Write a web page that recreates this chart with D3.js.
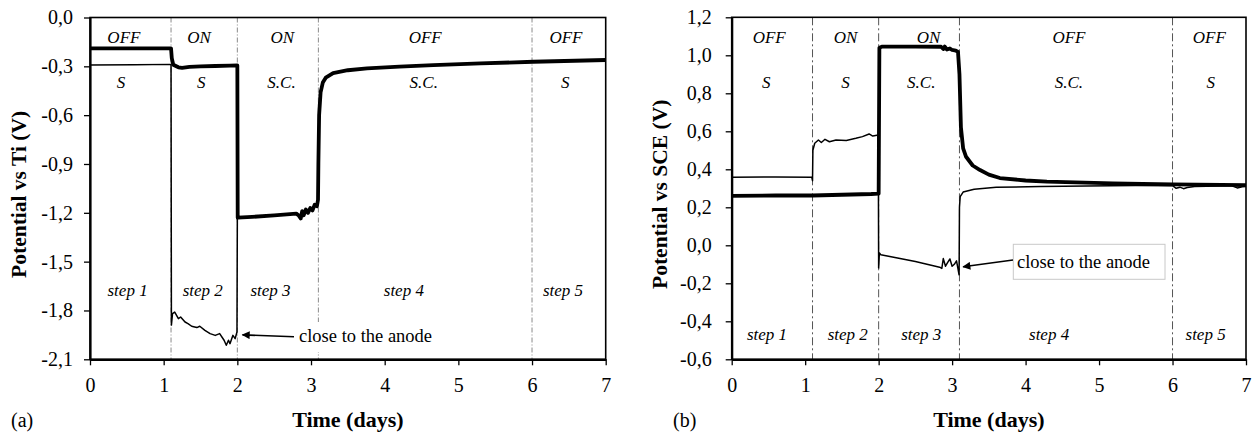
<!DOCTYPE html>
<html>
<head>
<meta charset="utf-8">
<script src="https://cdn.jsdelivr.net/npm/d3@7"></script>
<style>
  html, body { margin: 0; padding: 0; background: #fff; }
  svg { display: block; }
  text { font-family: "Liberation Serif", "Times New Roman", serif; fill: #000; }
</style>
</head>
<body>
<svg id="chart" width="1252" height="435"></svg>
<script>
// ---- data -------------------------------------------------------------
const dayTicks = [0, 1, 2, 3, 4, 5, 6, 7];
const tiTicks = [-2.1, -1.8, -1.5, -1.2, -0.9, -0.6, -0.3, 0.0];
const sceTicks = [-0.6, -0.4, -0.2, 0.0, 0.2, 0.4, 0.6, 0.8, 1.0, 1.2];

const stepBounds = [1.1, 2.0, 3.1, 6.0];
const polarisation = ["OFF", "ON", "ON", "OFF", "OFF"];
const connection = ["S", "S", "S.C.", "S.C.", "S"];
const stepNames = ["step 1", "step 2", "step 3", "step 4", "step 5"];

// (a) potential vs Ti, probe in the bulk [day, V]
const tiBulk = [
  [0, -0.19], [1.1, -0.19], [1.11, -0.25], [1.13, -0.29], [1.2, -0.306], [1.25, -0.309],
  [1.35, -0.303], [1.5, -0.300], [1.7, -0.298], [1.9, -0.296], [2.0, -0.295],
  [2.005, -1.23], [2.2, -1.225], [2.5, -1.216], [2.8, -1.205], [2.83, -1.215],
  [2.86, -1.235], [2.88, -1.19], [2.9, -1.215], [2.93, -1.18], [2.96, -1.2],
  [2.99, -1.17], [3.02, -1.185], [3.05, -1.15], [3.08, -1.16], [3.095, -1.12],
  [3.1, -0.9], [3.11, -0.6], [3.13, -0.46], [3.16, -0.40], [3.2, -0.37],
  [3.3, -0.342], [3.5, -0.324], [3.76, -0.313], [4.2, -0.302], [4.66, -0.292],
  [5.3, -0.282], [6.02, -0.272], [7.0, -0.261]
];
// (a) probe close to the anode
const tiNearAnode = [
  [0, -0.292], [0.6, -0.29], [1.1, -0.288], [1.105, -1.89], [1.12, -1.82],
  [1.15, -1.81], [1.2, -1.85], [1.23, -1.84], [1.29, -1.871], [1.33, -1.881],
  [1.38, -1.897], [1.45, -1.905], [1.49, -1.897], [1.56, -1.922], [1.63, -1.942],
  [1.7, -1.953], [1.76, -1.942], [1.82, -1.983], [1.85, -2.014], [1.88, -1.983],
  [1.9, -2.004], [1.94, -1.953], [1.97, -1.973], [1.995, -1.932], [2.0, -1.23]
];

// (b) potential vs SCE, probe in the bulk
const sceBulk = [
  [0, 0.26], [0.6, 0.262], [1.1, 0.262], [1.5, 0.266], [1.9, 0.27], [2.0, 0.272],
  [2.01, 1.04], [2.05, 1.046], [2.5, 1.046], [2.85, 1.045], [2.88, 1.033],
  [2.9, 1.046], [2.93, 1.03], [2.97, 1.036], [3.0, 1.028], [3.05, 1.025],
  [3.08, 1.018], [3.1, 0.9], [3.12, 0.62], [3.15, 0.51], [3.19, 0.466],
  [3.28, 0.42], [3.38, 0.396], [3.5, 0.372], [3.65, 0.354], [4.0, 0.341],
  [4.29, 0.335], [5.19, 0.326], [6.0, 0.321], [7.0, 0.317]
];
// (b) probe close to the anode
const sceNearAnode = [
  [0, 0.358], [0.6, 0.36], [1.09, 0.358], [1.1, 0.34], [1.105, 0.50],
  [1.13, 0.537], [1.18, 0.554], [1.22, 0.541], [1.27, 0.558], [1.33, 0.545],
  [1.42, 0.554], [1.56, 0.552], [1.69, 0.563], [1.78, 0.572], [1.87, 0.586],
  [1.92, 0.575], [1.995, 0.58], [2.0, -0.12], [2.01, -0.04], [2.03, -0.05],
  [2.5, -0.085], [2.83, -0.115], [2.86, -0.122], [2.88, -0.07], [2.91, -0.11],
  [2.94, -0.09], [2.97, -0.072], [3.0, -0.11], [3.03, -0.10], [3.06, -0.082],
  [3.095, -0.155], [3.1, 0.2], [3.11, 0.256], [3.15, 0.28], [3.3, 0.295],
  [3.6, 0.305], [4.2, 0.31], [4.83, 0.312], [5.5, 0.315], [6.0, 0.314],
  [6.05, 0.30], [6.1, 0.306], [6.15, 0.298], [6.2, 0.304], [6.3, 0.31],
  [6.8, 0.314], [6.88, 0.302], [6.95, 0.308], [7.0, 0.31]
];

// ---- drawing ----------------------------------------------------------
const svg = d3.select("#chart");
const comma = v => d3.format(".1f")(v).replace("\u2212", "-").replace(".", ",").replace("-0,0", "0,0");

const defs = svg.append("defs");
defs.append("marker")
  .attr("id", "arrowhead")
  .attr("viewBox", "0 0 10 10")
  .attr("refX", 9).attr("refY", 5)
  .attr("markerWidth", 13).attr("markerHeight", 8)
  .attr("markerUnits", "userSpaceOnUse")
  .attr("orient", "auto")
  .append("path").attr("d", "M0,0 L10,5 L0,10 Z").attr("fill", "#000");

function panel(cfg) {
  const x = d3.scaleLinear().domain([0, 7]).range([cfg.left, cfg.right]);
  const y = d3.scaleLinear().domain(cfg.yDomain).range([cfg.bottom, cfg.top]);
  const g = svg.append("g");

  // step dividers
  g.selectAll("line.div").data(stepBounds).join("line")
    .attr("x1", d => x(d)).attr("x2", d => x(d))
    .attr("y1", cfg.top).attr("y2", cfg.bottom)
    .attr("stroke", cfg.divColor).attr("stroke-width", 1)
    .attr("stroke-dasharray", cfg.divDash);

  // annotation box behind its text (interrupts the divider)
  const ann = cfg.note;
  g.append("rect")
    .attr("x", ann.box[0]).attr("y", ann.box[1])
    .attr("width", ann.box[2]).attr("height", ann.box[3])
    .attr("fill", "#fff")
    .attr("stroke", ann.border ? "#c8c8c8" : "none").attr("stroke-width", 1);

  // step text labels
  const lab = g.append("g").attr("font-style", "italic").attr("font-size", 17)
    .attr("text-anchor", "middle");
  polarisation.forEach((t, i) => lab.append("text")
    .attr("x", x(cfg.offX[i])).attr("y", cfg.row1).text(t));
  connection.forEach((t, i) => lab.append("text")
    .attr("x", x(cfg.connX[i])).attr("y", cfg.row2).text(t));
  stepNames.forEach((t, i) => lab.append("text")
    .attr("x", x(cfg.stepX[i])).attr("y", cfg.row3).text(t));

  // series
  const line = d3.line().x(d => x(d[0])).y(d => y(d[1]));
  g.append("path").datum(cfg.thin).attr("d", line)
    .attr("fill", "none").attr("stroke", "#000").attr("stroke-width", 1.5)
    .attr("stroke-linejoin", "round");
  g.append("path").datum(cfg.thick).attr("d", line)
    .attr("fill", "none").attr("stroke", "#000").attr("stroke-width", 3.8)
    .attr("stroke-linejoin", "round");

  // frame
  g.append("rect")
    .attr("x", cfg.left).attr("y", cfg.top)
    .attr("width", cfg.right - cfg.left).attr("height", cfg.bottom - cfg.top)
    .attr("fill", "none").attr("stroke", "#000").attr("stroke-width", 1.6);

  // axes
  const xa = g.append("g").attr("transform", `translate(0,${cfg.bottom})`)
    .call(d3.axisBottom(x).tickValues(dayTicks).tickFormat(d3.format("d"))
      .tickSizeOuter(0).tickSizeInner(6).tickPadding(13));
  const ya = g.append("g").attr("transform", `translate(${cfg.left},0)`)
    .call(d3.axisLeft(y).tickValues(cfg.yTicks).tickFormat(comma)
      .tickSizeOuter(0).tickSizeInner(6).tickPadding(cfg.yPad));
  [xa, ya].forEach(a => {
    a.select(".domain").attr("stroke", "#000").attr("stroke-width", 2.2);
    a.selectAll(".tick line").attr("stroke", "#000").attr("stroke-width", 1.3);
    a.selectAll(".tick text").attr("font-family", "Liberation Serif")
      .attr("font-size", 20).attr("fill", "#000");
  });

  // annotation text + arrow
  g.append("text").attr("x", ann.tx).attr("y", ann.ty)
    .attr("font-size", 18.5).text("close to the anode");
  g.append("line")
    .attr("x1", ann.from[0]).attr("y1", ann.from[1])
    .attr("x2", x(ann.to[0])).attr("y2", y(ann.to[1]))
    .attr("stroke", "#000").attr("stroke-width", 1.6)
    .attr("marker-end", "url(#arrowhead)");

  // titles
  svg.append("text")
    .attr("x", (cfg.left + cfg.right) / 2).attr("y", 427)
    .attr("text-anchor", "middle").attr("font-weight", "bold").attr("font-size", 22)
    .text("Time (days)");
  svg.append("text")
    .attr("transform", `translate(${cfg.titleX},${(cfg.top + cfg.bottom) / 2 + 6}) rotate(-90)`)
    .attr("text-anchor", "middle").attr("font-weight", "bold").attr("font-size", 21.5)
    .text(cfg.yTitle);
  svg.append("text").attr("x", cfg.tagX).attr("y", 427)
    .attr("font-size", 20).text(cfg.tag);
}

panel({
  left: 90, right: 605.7, top: 17.5, bottom: 359.3,
  yDomain: [-2.1, 0], yTicks: tiTicks, yPad: 11,
  yTitle: "Potential vs Ti (V)", titleX: 26, tag: "(a)", tagX: 11,
  thick: tiBulk, thin: tiNearAnode,
  divColor: "#8a8a8a", divDash: "5,2,1,2",
  offX: [0.46, 1.48, 2.61, 4.55, 6.46],
  connX: [0.42, 1.51, 2.6, 4.53, 6.45],
  stepX: [0.51, 1.53, 2.45, 4.26, 6.42],
  row1: 43, row2: 88, row3: 296,
  note: { box: [296, 322, 142, 30], border: false, tx: 299, ty: 342,
          from: [294, 336.7], to: [2.07, -1.95] }
});

panel({
  left: 731.7, right: 1246, top: 17.3, bottom: 359.3,
  yDomain: [-0.6, 1.2], yTicks: sceTicks, yPad: 14,
  yTitle: "Potential vs SCE (V)", titleX: 667, tag: "(b)", tagX: 673,
  thick: sceBulk, thin: sceNearAnode,
  divColor: "#555", divDash: "8,3,2,3",
  offX: [0.51, 1.55, 2.68, 4.59, 6.5],
  connX: [0.47, 1.55, 2.58, 4.59, 6.52],
  stepX: [0.48, 1.58, 2.58, 4.32, 6.45],
  row1: 43, row2: 88, row3: 340,
  note: { box: [1013.3, 244.3, 151.7, 35], border: true, tx: 1017, ty: 268,
          from: [1013, 260], to: [3.15, -0.113] }
});
</script>
</body>
</html>
